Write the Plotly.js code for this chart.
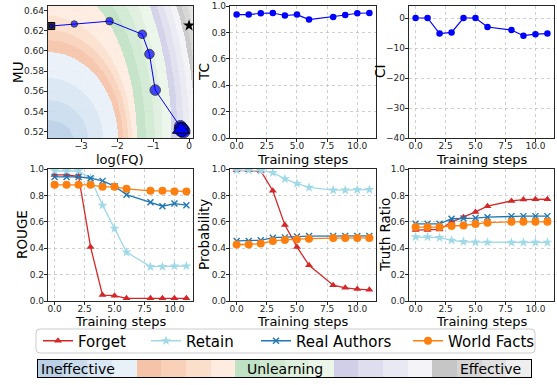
<!DOCTYPE html>
<html>
<head>
<meta charset="utf-8">
<script src="https://cdn.plot.ly/plotly-3.0.1.min.js"></script>
<style>
  html, body { margin: 0; padding: 0; background: #fff; }
  #chart { width: 557px; height: 385px; }
</style>
</head>
<body>
<div id="chart"></div>
<script>
// ---- data -------------------------------------------------------------
const steps = [0, 1, 2, 3, 4, 5, 6, 8, 9, 10, 11];

// forget quality (log) vs model utility along training
const logFQ = [-3.83, -3.19, -2.21, -1.30, -1.10, -0.94, -0.24, -0.21, -0.18, -0.16, -0.22];
const modelUtility = [0.6245, 0.6265, 0.6293, 0.6163, 0.5968, 0.5612, 0.5252, 0.5232, 0.5215, 0.5205, 0.5222];
const targetLogFQ = [0];
const targetMU = [0.625];

const tcValues = [0.935, 0.935, 0.945, 0.947, 0.928, 0.935, 0.897, 0.917, 0.932, 0.945, 0.947];
const ciValues = [0, 0, -5.2, -4.8, 0, 0, -3.0, -4.0, -5.9, -5.4, -5.2];

const seriesNames = ['Forget', 'Retain', 'Real Authors', 'World Facts'];

const rougeForget = [0.955, 0.955, 0.945, 0.41, 0.045, 0.04, 0.02, 0.02, 0.02, 0.02, 0.02];
const rougeRetain = [0.985, 0.985, 0.985, 0.93, 0.725, 0.55, 0.37, 0.26, 0.26, 0.265, 0.265];
const rougeReal   = [0.94, 0.94, 0.94, 0.93, 0.91, 0.87, 0.805, 0.748, 0.718, 0.738, 0.726];
const rougeWorld  = [0.88, 0.88, 0.88, 0.88, 0.865, 0.865, 0.85, 0.835, 0.835, 0.83, 0.83];

const probForget = [0.99, 0.99, 0.985, 0.835, 0.575, 0.41, 0.27, 0.12, 0.10, 0.09, 0.085];
const probRetain = [0.99, 0.99, 0.987, 0.972, 0.925, 0.89, 0.86, 0.84, 0.84, 0.843, 0.843];
const probReal   = [0.455, 0.455, 0.46, 0.48, 0.482, 0.488, 0.492, 0.493, 0.493, 0.493, 0.493];
const probWorld  = [0.428, 0.428, 0.435, 0.455, 0.463, 0.468, 0.472, 0.477, 0.478, 0.478, 0.478];

const trForget = [0.537, 0.537, 0.542, 0.598, 0.635, 0.675, 0.718, 0.758, 0.768, 0.771, 0.771];
const trRetain = [0.485, 0.485, 0.48, 0.46, 0.449, 0.446, 0.445, 0.444, 0.444, 0.444, 0.444];
const trReal   = [0.585, 0.585, 0.585, 0.623, 0.625, 0.628, 0.635, 0.643, 0.643, 0.643, 0.643];
const trWorld  = [0.56, 0.56, 0.56, 0.568, 0.572, 0.583, 0.593, 0.60, 0.60, 0.60, 0.60];

const zoneLabels = ['Ineffective', 'Unlearning', 'Effective'];

// ---- styles -----------------------------------------------------------
const FONT = 'DejaVu Sans, Liberation Sans, sans-serif';
const INK = '#262626';
const W = 557, H = 385;
const px = v => v / W;
const py = v => 1 - v / H;

// 20 shaded zones: blues, oranges, greens, purples, greys (dark -> light)
const zoneColors = [
  '#b9d0e6', '#c9dcee', '#d9e6f3', '#e8f0f8',
  '#f5c3a7', '#f9d1b8', '#fcdfcb', '#feece0',
  '#bfe2c5', '#d0e9d2', '#deefdd', '#ebf6e9',
  '#d1cfe7', '#dfdeee', '#e9e9f3', '#f3f3f8',
  '#c6c6c6', '#d4d4d4', '#e1e1e1', '#eeeeee'
];
const stepScale = [];
zoneColors.forEach((c, i) => { stepScale.push([i / 20, c]); stepScale.push([(i + 1) / 20, c]); });

const seriesStyle = [
  { color: '#d62728', symbol: 'triangle-up', size: 7 },
  { color: '#9fd9e8', symbol: 'star', size: 7.5 },
  { color: '#1f77b4', symbol: 'x-thin', size: 6 },
  { color: '#ff7f0e', symbol: 'circle', size: 8 }
];

// zone field behind the log(FQ)-MU panel: nested quarter ellipses from the lower-left corner
const fieldOrigin = { x: -3.92, y: 0.5138 };
const zoneSemiX = [0.694, 1.111, 1.528, 1.944, 2.083, 2.222, 2.333, 2.472, 2.722, 2.972,
                   3.194, 3.444, 3.611, 3.778, 3.944, 4.10, 4.222, 4.361, 4.583];
const zoneSemiY = [0.0178, 0.0376, 0.0593, 0.0850, 0.0969, 0.1068, 0.1206, 0.1562, 0.1740, 0.1927,
                   0.2105, 0.2293, 0.2392, 0.2491, 0.2590, 0.2684, 0.2768, 0.2866, 0.2965];
const fqRange = [-3.92, 0.11], muRange = [0.5138, 0.6443];
const gx = [], gy = [], gz = [];
const NX = 320, NY = 260;
for (let i = 0; i < NX; i++) gx.push(fqRange[0] + (fqRange[1] - fqRange[0]) * i / (NX - 1));
for (let j = 0; j < NY; j++) gy.push(muRange[0] + (muRange[1] - muRange[0]) * j / (NY - 1));
for (let j = 0; j < NY; j++) {
  const row = [];
  for (let i = 0; i < NX; i++) {
    const dx = gx[i] - fieldOrigin.x, dy = gy[j] - fieldOrigin.y;
    let k = 0;
    for (let L = 0; L < zoneSemiX.length; L++) {
      const e = (dx / zoneSemiX[L]) ** 2 + (dy / zoneSemiY[L]) ** 2;
      if (e > 1) k = L + 1;
    }
    row.push(k);
  }
  gz.push(row);
}

// ---- traces -----------------------------------------------------------
const traces = [];
traces.push({
  type: 'heatmap', x: gx, y: gy, z: gz, xaxis: 'x', yaxis: 'y',
  colorscale: stepScale, zmin: -0.5, zmax: 19.5, showscale: false, zsmooth: false,
  hoverinfo: 'skip', opacity: 0.9
});
traces.push({
  type: 'scatter', mode: 'markers', x: [logFQ[0]], y: [modelUtility[0]], xaxis: 'x', yaxis: 'y',
  marker: { symbol: 'square', size: 7, color: '#333', line: { color: '#000', width: 1 } },
  showlegend: false, hoverinfo: 'skip'
});
const pathSizes = [4, 6.5, 7.5, 8.5, 9.5, 10.5, 12, 12.5, 13, 13.5, 14];
traces.push({
  type: 'scatter', mode: 'lines+markers', x: logFQ, y: modelUtility, xaxis: 'x', yaxis: 'y',
  line: { color: '#0000ff', width: 1 },
  marker: { color: '#0000ff', size: pathSizes, line: { color: '#000', width: 1 } },
  showlegend: false
});
traces.push({
  type: 'scatter', mode: 'markers', x: [logFQ[logFQ.length - 1]], y: [modelUtility[modelUtility.length - 1]],
  xaxis: 'x', yaxis: 'y',
  marker: { symbol: 'triangle-up', size: 15, color: '#0000ff', line: { color: '#000', width: 1 } },
  showlegend: false
});
traces.push({
  type: 'scatter', mode: 'markers', x: targetLogFQ, y: targetMU, xaxis: 'x', yaxis: 'y',
  marker: { symbol: 'star', size: 9, color: '#000' }, showlegend: false
});

traces.push({
  type: 'scatter', mode: 'lines+markers', x: steps, y: tcValues, xaxis: 'x2', yaxis: 'y2',
  line: { color: '#0000ff', width: 1.2 }, marker: { color: '#0000ff', size: 6.5 }, showlegend: false
});
traces.push({
  type: 'scatter', mode: 'lines+markers', x: steps, y: ciValues, xaxis: 'x3', yaxis: 'y3',
  line: { color: '#0000ff', width: 1.2 }, marker: { color: '#0000ff', size: 6.5 }, showlegend: false
});

const panels = [
  { ax: '4', data: [rougeForget, rougeRetain, rougeReal, rougeWorld], legend: true },
  { ax: '5', data: [probForget, probRetain, probReal, probWorld], legend: false },
  { ax: '6', data: [trForget, trRetain, trReal, trWorld], legend: false }
];
const legendIds = ['legend', 'legend2', 'legend3', 'legend4'];
panels.forEach(p => {
  p.data.forEach((vals, s) => {
    const st = seriesStyle[s];
    traces.push({
      type: 'scatter', mode: 'lines+markers', name: seriesNames[s], x: steps, y: vals,
      xaxis: 'x' + p.ax, yaxis: 'y' + p.ax,
      line: { color: st.color, width: 1.3 },
      marker: { color: st.color, symbol: st.symbol, size: st.size,
                line: { color: st.color, width: st.symbol === 'x-thin' ? 1.4 : 0 } },
      showlegend: p.legend, legend: legendIds[s]
    });
  });
});

// zone strip
traces.push({
  type: 'heatmap', x: zoneColors.map((c, i) => i), y: [0], z: [zoneColors.map((c, i) => i)],
  xaxis: 'x7', yaxis: 'y7', colorscale: stepScale, zmin: -0.5, zmax: 19.5,
  showscale: false, hoverinfo: 'skip'
});

// ---- axes -------------------------------------------------------------
function axis(domain, anchor, range, extra) {
  return Object.assign({
    domain, anchor, range, showline: true, mirror: true, linecolor: INK, linewidth: 1.2,
    ticks: 'outside', ticklen: 3, tickwidth: 1, tickcolor: INK, ticklabelstandoff: -2,
    showgrid: true, gridcolor: '#c4c4c4', griddash: 'dot', gridwidth: 0.8,
    zeroline: false, tickfont: { family: FONT, size: 9, color: INK }, fixedrange: true
  }, extra || {});
}
function xAxis(domain, anchor, range, extra) {
  return axis(domain, anchor, range, Object.assign({ ticklabelstandoff: -4 }, extra));
}
const colX = [[px(48), px(193)], [px(230), px(376)], [px(409), px(554)]];
const rowY = [[py(138), py(6)], [py(301), py(169)]];
const stepTicks = { tickvals: [0, 2.5, 5, 7.5, 10], ticktext: ['0.0', '2.5', '5.0', '7.5', '10.0'] };
const unitTicks = { tickvals: [0, 0.2, 0.4, 0.6, 0.8, 1.0], ticktext: ['0.0', '0.2', '0.4', '0.6', '0.8', '1.0'] };
const stepRange = [-0.55, 11.55];

const layout = {
  width: W, height: H, margin: { l: 0, r: 0, t: 0, b: 0 },
  paper_bgcolor: '#fff', plot_bgcolor: '#fff',
  font: { family: FONT, color: '#000' },
  xaxis: xAxis(colX[0], 'y', fqRange, { tickvals: [-3, -2, -1, 0], ticktext: ['\u22123', '\u22122', '\u22121', '0'] }),
  yaxis: axis(rowY[0], 'x', muRange, { tickvals: [0.52, 0.54, 0.56, 0.58, 0.60, 0.62, 0.64],
                                       ticktext: ['0.52', '0.54', '0.56', '0.58', '0.60', '0.62', '0.64'] }),
  xaxis2: xAxis(colX[1], 'y2', stepRange, stepTicks),
  yaxis2: axis(rowY[0], 'x2', [0, 1], unitTicks),
  xaxis3: xAxis(colX[2], 'y3', stepRange, stepTicks),
  yaxis3: axis(rowY[0], 'x3', [-40, 4], { tickvals: [0, -10, -20, -30, -40],
                                          ticktext: ['0', '\u221210', '\u221220', '\u221230', '\u221240'] }),
  xaxis4: xAxis(colX[0], 'y4', stepRange, stepTicks),
  yaxis4: axis(rowY[1], 'x4', [0, 1], unitTicks),
  xaxis5: xAxis(colX[1], 'y5', stepRange, stepTicks),
  yaxis5: axis(rowY[1], 'x5', [0, 1], unitTicks),
  xaxis6: xAxis(colX[2], 'y6', stepRange, stepTicks),
  yaxis6: axis(rowY[1], 'x6', [0, 1], unitTicks),
  xaxis7: { domain: [px(38), px(531)], anchor: 'y7', range: [-0.5, 19.5], showticklabels: false,
            ticks: '', showgrid: false, zeroline: false, showline: true, mirror: true,
            linecolor: '#000', linewidth: 1.2, fixedrange: true },
  yaxis7: { domain: [py(377), py(360)], anchor: 'x7', range: [-0.5, 0.5], showticklabels: false,
            ticks: '', showgrid: false, zeroline: false, showline: true, mirror: true,
            linecolor: '#000', linewidth: 1.2, fixedrange: true },
  shapes: [{
    type: 'path', xref: 'paper', yref: 'paper', layer: 'below',
    path: (() => {
      const x0 = px(36), x1 = px(535), y0 = py(353), y1 = py(329), rx = px(4), ry = 4 / H;
      return `M ${x0 + rx} ${y0} L ${x1 - rx} ${y0} Q ${x1} ${y0} ${x1} ${y0 + ry} L ${x1} ${y1 - ry} ` +
             `Q ${x1} ${y1} ${x1 - rx} ${y1} L ${x0 + rx} ${y1} Q ${x0} ${y1} ${x0} ${y1 - ry} ` +
             `L ${x0} ${y0 + ry} Q ${x0} ${y0} ${x0 + rx} ${y0} Z`;
    })(),
    line: { color: '#cccccc', width: 1 }, fillcolor: '#ffffff'
  }],
  annotations: []
};

// legend entries laid out individually so each sits where its text starts
const legendTextStarts = [80, 188, 298, 450];
legendIds.forEach((id, i) => {
  layout[id] = {
    x: px(legendTextStarts[i] - 42), y: py(341), xanchor: 'left', yanchor: 'middle',
    orientation: 'h', bgcolor: 'rgba(0,0,0,0)', borderwidth: 0,
    font: { family: FONT, size: 15, color: '#000' }
  };
});

function note(text, x, y, opts) {
  layout.annotations.push(Object.assign({
    text, x: px(x), y: py(y), xref: 'paper', yref: 'paper', showarrow: false, borderpad: 0,
    font: { family: FONT, size: 13.5, color: '#000' }, xanchor: 'center', yanchor: 'middle'
  }, opts || {}));
}
// axis titles
const titleFont = { family: FONT, size: 13, color: '#000' };
note('log(FQ)', 120, 159, { font: titleFont });
note('Training steps', 303, 159, { font: titleFont });
note('Training steps', 482, 159, { font: titleFont });
note('Training steps', 121, 321, { font: titleFont });
note('Training steps', 303, 321, { font: titleFont });
note('Training steps', 482, 321, { font: titleFont });
note('MU', 18, 72, { textangle: -90 });
note('TC', 204, 72, { textangle: -90 });
note('CI', 380, 72, { textangle: -90 });
note('ROUGE', 22, 235, { textangle: -90 });
note('Probability', 204, 235, { textangle: -90 });
note('Truth Ratio', 385, 235, { textangle: -90 });
// zone strip labels
const stripFont = { family: FONT, size: 14, color: '#000' };
note(zoneLabels[0], 40, 368.5, { xanchor: 'left', font: stripFont });
note(zoneLabels[1], 285, 368.5, { font: stripFont });
note(zoneLabels[2], 522, 368.5, { xanchor: 'right', font: stripFont });

Plotly.newPlot('chart', traces, layout, { displayModeBar: false, staticPlot: true });
</script>
</body>
</html>
